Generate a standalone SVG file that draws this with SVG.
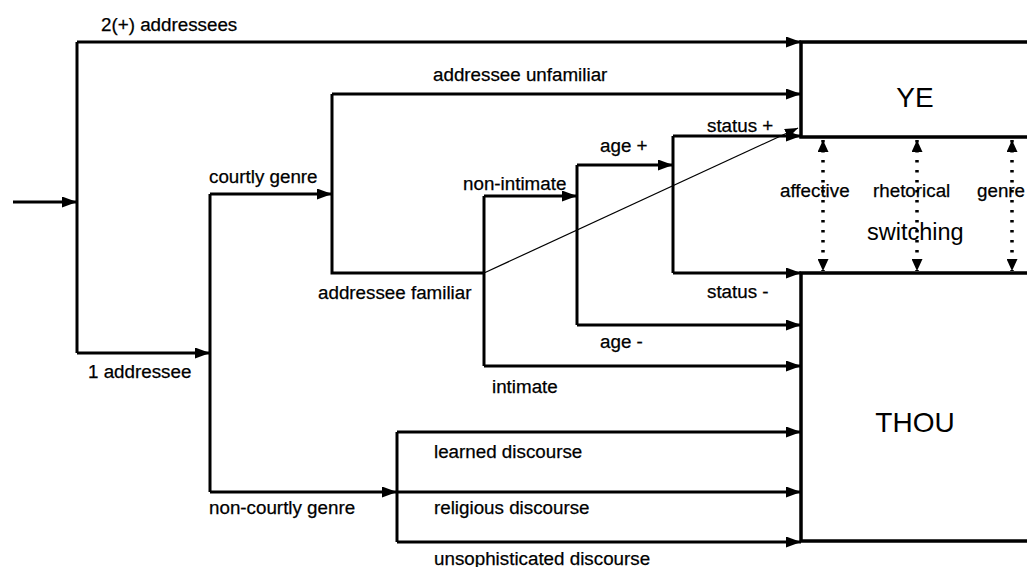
<svg xmlns="http://www.w3.org/2000/svg" width="1027" height="567" viewBox="0 0 1027 567">
<style>
.ln{fill:none;stroke:#000;stroke-width:3}
.ar{fill:none;stroke:#000;stroke-width:3;marker-end:url(#ah)}
.thin{fill:none;stroke:#000;stroke-width:1.2;marker-end:url(#ahs)}
.dot{fill:none;stroke:#000;stroke-width:3.5;stroke-dasharray:2.5 7.5;marker-start:url(#dh);marker-end:url(#dh)}
.box{fill:#fff;stroke:#000;stroke-width:3.5}
text{font-family:"Liberation Sans",Arial,sans-serif;font-size:18.8px;fill:#000;stroke:#000;stroke-width:0.25}
.big{font-size:28px;text-anchor:middle;stroke-width:0}
.mid{font-size:23.5px;stroke-width:0}
</style>
<defs>
<marker id="ah" markerUnits="userSpaceOnUse" markerWidth="15" markerHeight="11" refX="15" refY="5.5" orient="auto"><path d="M0,0 L15,5.5 L0,11 z" fill="#000"/></marker>
<marker id="ahs" markerUnits="userSpaceOnUse" markerWidth="13" markerHeight="10" refX="13" refY="5" orient="auto"><path d="M0,0 L13,5 L0,10 z" fill="#000"/></marker>
<marker id="dh" markerUnits="userSpaceOnUse" markerWidth="12" markerHeight="11" refX="12" refY="5.5" orient="auto-start-reverse"><path d="M0,0 L12,5.5 L0,11 z" fill="#000"/></marker>
</defs>
<g id="node-ye"><rect class="box" x="801" y="42" width="260" height="95"/><text class="big" x="915" y="107">YE</text></g>
<g id="node-thou"><rect class="box" x="801" y="273" width="260" height="268"/><text class="big" x="915" y="432">THOU</text></g>
<g id="connectors">
<path class="ar" d="M13,202 H77"/>
<path class="ln" d="M77,42 V353"/>
<path class="ar" d="M77,42 H801"/>
<path class="ar" d="M77,353 H210"/>
<path class="ln" d="M210,194 V492"/>
<path class="ar" d="M210,194 H332"/>
<path class="ln" d="M332,94 V273 H484"/>
<path class="ar" d="M332,94 H801"/>
<path class="ln" d="M484,196 V366"/>
<path class="ar" d="M484,196 H577"/>
<path class="ln" d="M577,165 V325"/>
<path class="ar" d="M577,165 H673"/>
<path class="ln" d="M673,136 V273"/>
<path class="ar" d="M673,136 H801"/>
<path class="ar" d="M673,273 H801"/>
<path class="ar" d="M577,325 H801"/>
<path class="ar" d="M484,366 H801"/>
<path class="ar" d="M210,492 H397"/>
<path class="ln" d="M397,432 V542"/>
<path class="ar" d="M397,432 H801"/>
<path class="ar" d="M397,492 H801"/>
<path class="ar" d="M397,542 H801"/>
<path class="thin" d="M484,273 L798,128"/>
</g>
<g id="node-switching">
<path class="dot" d="M823,140 V271"/>
<path class="dot" d="M917,140 V271"/>
<path class="dot" d="M1012,140 V271"/>
<text x="780" y="197">affective</text>
<text x="873" y="197">rhetorical</text>
<text x="977" y="197">genre</text>
<text class="mid" x="867" y="240">switching</text>
</g>
<g id="labels">
<text x="101" y="31">2(+) addressees</text>
<text x="433" y="81">addressee unfamiliar</text>
<text x="209" y="183">courtly genre</text>
<text x="463" y="190">non-intimate</text>
<text x="600" y="152">age +</text>
<text x="707" y="132">status +</text>
<text x="318" y="299">addressee familiar</text>
<text x="707" y="298">status -</text>
<text x="600" y="348">age -</text>
<text x="492" y="393">intimate</text>
<text x="88" y="378">1 addressee</text>
<text x="434" y="458">learned discourse</text>
<text x="434" y="514">religious discourse</text>
<text x="209" y="514">non-courtly genre</text>
<text x="434" y="565">unsophisticated discourse</text>
</g>
</svg>
